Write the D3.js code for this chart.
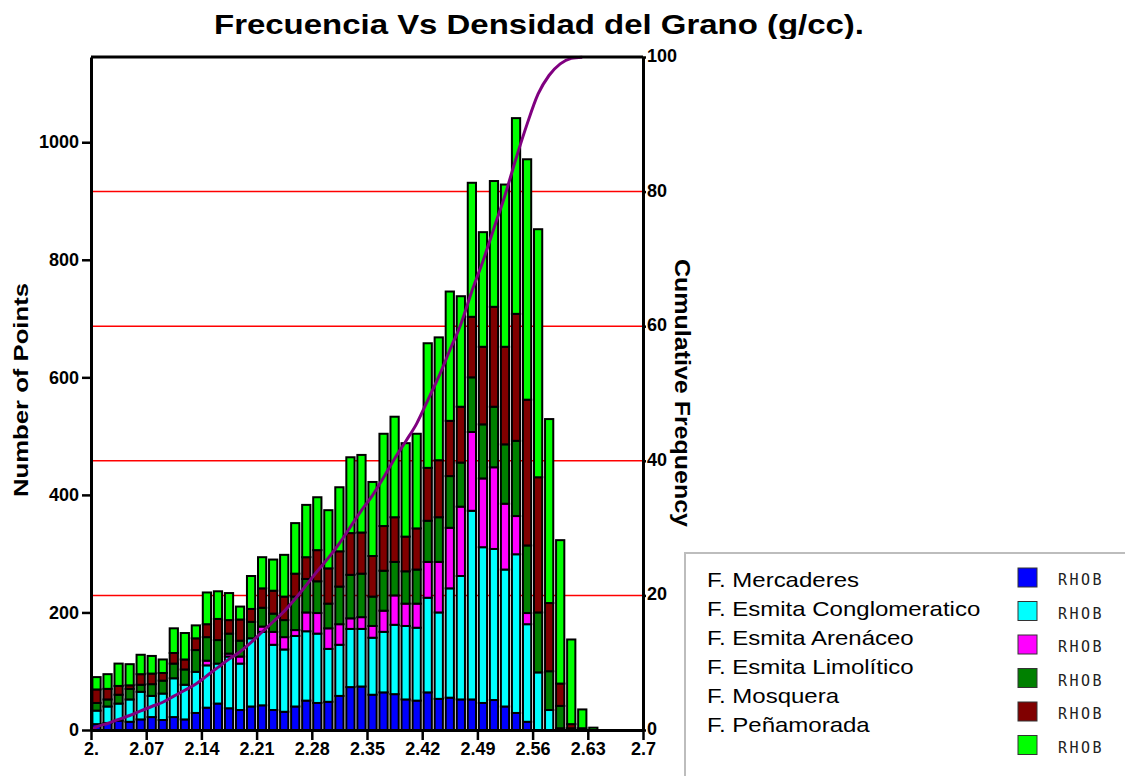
<!DOCTYPE html>
<html>
<head>
<meta charset="utf-8">
<script src="https://cdn.jsdelivr.net/npm/d3@7"></script>
<style>
  body { margin: 0; background: #fff; }
  svg { display: block; }
</style>
</head>
<body>
<svg id="chart" width="1125" height="776"></svg>
<script>
// Histogram bins of grain density (g/cc), left edges
const binStarts = [2.000, 2.014, 2.028, 2.042, 2.056, 2.070, 2.084, 2.098, 2.112, 2.126,
                   2.140, 2.154, 2.168, 2.182, 2.196, 2.210, 2.224, 2.238, 2.252, 2.266,
                   2.280, 2.294, 2.308, 2.322, 2.336, 2.350, 2.364, 2.378, 2.392, 2.406,
                   2.420, 2.434, 2.448, 2.462, 2.476, 2.490, 2.504, 2.518, 2.532, 2.546,
                   2.560, 2.574, 2.588, 2.602, 2.616, 2.630];
const binWidth = 0.014;

// Counts per bin for each formation (stacked bottom to top)
const mercaderes     = [10,12,16,14,18,22,17,22,18,29,38,45,37,34,40,42,34,31,40,50,46,48,58,73,74,60,64,61,52,50,64,53,55,52,52,46,51,40,29,14,0,0,0,0,0,0];
const conglomeratico = [23,28,29,38,47,36,45,66,59,70,72,68,88,79,116,125,111,106,120,118,118,90,87,99,98,97,103,118,125,124,161,147,186,210,321,265,257,233,270,166,98,34,3,0,0,0];
const arenaceo       = [0,0,0,0,0,0,0,0,0,0,8,0,5,12,0,9,22,21,10,32,35,35,35,18,20,20,36,50,38,41,61,86,103,118,134,117,139,112,65,19,0,0,0,0,0,0];
const limolitico     = [13,12,15,18,12,20,22,25,26,37,40,40,34,27,28,32,31,29,57,57,54,42,64,74,74,50,68,57,55,58,70,76,88,75,93,92,103,101,128,115,102,66,38,3,0,0];
const mosquera       = [23,18,15,6,18,18,13,18,17,20,22,36,23,36,22,33,39,40,39,37,53,60,60,71,70,69,76,76,59,70,90,97,94,95,103,132,170,166,216,248,230,116,38,7,3,0];
const penamorada     = [21,25,38,36,33,30,23,42,45,22,54,47,46,22,56,53,53,71,86,89,90,99,109,129,132,126,157,171,159,161,212,209,220,188,228,195,214,276,333,409,422,313,244,144,32,4];

const seriesNames  = ["F. Mercaderes", "F. Esmita Conglomeratico", "F. Esmita Arenáceo",
                      "F. Esmita Limolítico", "F. Mosquera", "F. Peñamorada"];
const seriesColors = ["#0000ff", "#00ffff", "#ff00ff", "#008000", "#800000", "#00ff00"];
const seriesValues = [mercaderes, conglomeratico, arenaceo, limolitico, mosquera, penamorada];
const curveName = "RHOB";

// Axis ticks
const leftTicks  = [0, 200, 400, 600, 800, 1000];
const rightTicks = [0, 20, 40, 60, 80, 100];
const gridTicks  = [20, 40, 60, 80];
const xTicks      = [2.0, 2.07, 2.14, 2.21, 2.28, 2.35, 2.42, 2.49, 2.56, 2.63, 2.7];
const xTickLabels = ["2.", "2.07", "2.14", "2.21", "2.28", "2.35", "2.42", "2.49", "2.56", "2.63", "2.7"];

const titleText  = "Frecuencia Vs Densidad del Grano (g/cc).";
const yLeftText  = "Number of Points";
const yRightText = "Cumulative Frequency";

const svg = d3.select("#chart");
const FONT = "'Liberation Sans', Arial, Helvetica, sans-serif";

const x  = d3.scaleLinear().domain([2.0, 2.7]).range([91, 643]);
const yL = d3.scaleLinear().domain([0, 1145]).range([730, 57]);
const yR = d3.scaleLinear().domain([0, 100]).range([730, 57]);

// Red reference lines on the cumulative scale
svg.append("g").selectAll("line").data(gridTicks).join("line")
  .attr("x1", x(2.0)).attr("x2", x(2.7))
  .attr("y1", d => yR(d)).attr("y2", d => yR(d))
  .attr("stroke", "#ff0000").attr("stroke-width", 1.5);

// Stacked histogram
const rows = binStarts.map((b, i) => ({ bin: b, values: seriesValues.map(s => s[i]) }));
const stacked = d3.stack().keys(d3.range(seriesValues.length)).value((d, k) => d.values[k])(rows);
const barW = x(2.0 + binWidth) - x(2.0);

svg.append("g").selectAll("g").data(stacked).join("g")
  .attr("fill", (d, i) => seriesColors[i])
  .selectAll("rect").data(d => d.filter(p => p[1] - p[0] > 0)).join("rect")
  .attr("x", p => x(p.data.bin) + 1.4)
  .attr("width", barW - 2.8)
  .attr("y", p => yL(p[1]))
  .attr("height", p => yL(p[0]) - yL(p[1]))
  .attr("stroke", "#000").attr("stroke-width", 2);

// Cumulative frequency curve (percent of all points)
const totals = rows.map(r => d3.sum(r.values));
const cum = Array.from(d3.cumsum(totals));
const grand = cum[cum.length - 1];
const curvePts = [{ x: binStarts[0], y: 0 }].concat(
  binStarts.slice(0, 45).map((b, i) => ({ x: b + binWidth / 2, y: cum[i] / grand * 100 })));
svg.append("path").datum(curvePts)
  .attr("fill", "none").attr("stroke", "#800080").attr("stroke-width", 3)
  .attr("d", d3.line().x(d => x(d.x)).y(d => yR(d.y)).curve(d3.curveMonotoneX));

// Frame
svg.append("line").attr("x1", x(2.0)).attr("x2", x(2.7)).attr("y1", 57).attr("y2", 57)
  .attr("stroke", "#000").attr("stroke-width", 3);

function styleAxis(g, fs) {
  g.select(".domain").attr("stroke-width", 3);
  g.selectAll(".tick line").attr("stroke-width", 2.5);
  g.selectAll(".tick text").attr("font-family", FONT).attr("font-weight", "bold")
    .attr("font-size", fs).attr("fill", "#000");
}

const gLeft = svg.append("g").attr("transform", `translate(${x(2.0)},0)`)
  .call(d3.axisLeft(yL).tickValues(leftTicks).tickSize(9).tickSizeOuter(0).tickPadding(3).tickFormat(d3.format("d")));
styleAxis(gLeft, 18);

const gRight = svg.append("g").attr("transform", `translate(${x(2.7)},0)`)
  .call(d3.axisRight(yR).tickValues(rightTicks).tickSize(3).tickSizeOuter(0).tickPadding(1).tickFormat(d3.format("d")));
styleAxis(gRight, 18);
gRight.selectAll(".tick text").attr("dy", "0.25em");

const gBottom = svg.append("g").attr("transform", `translate(0,${yL(0)})`)
  .call(d3.axisBottom(x).tickValues(xTicks).tickSize(10).tickSizeOuter(0).tickPadding(2)
    .tickFormat((d, i) => xTickLabels[i]));
styleAxis(gBottom, 18);

// Title (bottom of the line is cut by its box)
svg.append("clipPath").attr("id", "titleClip")
  .append("rect").attr("x", 0).attr("y", 0).attr("width", 1125).attr("height", 39);
svg.append("text").attr("clip-path", "url(#titleClip)")
  .attr("x", 539).attr("y", 34).attr("text-anchor", "middle")
  .attr("font-family", FONT).attr("font-weight", "bold").attr("font-size", 28)
  .attr("textLength", 650).attr("lengthAdjust", "spacingAndGlyphs")
  .text(titleText);

// Axis titles
svg.append("text").attr("transform", "translate(28,390) rotate(-90)")
  .attr("text-anchor", "middle").attr("font-family", FONT).attr("font-weight", "bold")
  .attr("font-size", 21).attr("textLength", 214).attr("lengthAdjust", "spacingAndGlyphs")
  .text(yLeftText);
svg.append("text").attr("transform", "translate(675,393) rotate(90)")
  .attr("text-anchor", "middle").attr("font-family", FONT).attr("font-weight", "bold")
  .attr("font-size", 22).attr("textLength", 268).attr("lengthAdjust", "spacingAndGlyphs")
  .text(yRightText);

// Legend
const legend = svg.append("g");
legend.append("rect").attr("x", 685).attr("y", 553).attr("width", 470).attr("height", 260)
  .attr("fill", "#fff").attr("stroke", "#bdbdbd").attr("stroke-width", 2);

legend.selectAll("text.name").data(seriesNames).join("text").attr("class", "name")
  .attr("transform", (d, i) => `translate(707,${587 + i * 29}) scale(1.2,1)`)
  .attr("font-family", FONT).attr("font-size", 20).attr("fill", "#000")
  .text(d => d);

legend.selectAll("rect.sw").data(seriesColors).join("rect").attr("class", "sw")
  .attr("x", 1018).attr("y", (d, i) => 568 + i * 33.5)
  .attr("width", 19).attr("height", 19)
  .attr("fill", d => d).attr("stroke", "#333").attr("stroke-width", 1);

legend.selectAll("text.tag").data(seriesColors).join("text").attr("class", "tag")
  .attr("x", 1058).attr("y", (d, i) => 585 + i * 33.5)
  .attr("font-family", "'DejaVu Sans Mono', monospace").attr("font-size", 15)
  .attr("letter-spacing", 2.5).attr("fill", "#222")
  .text(curveName);
</script>
</body>
</html>
